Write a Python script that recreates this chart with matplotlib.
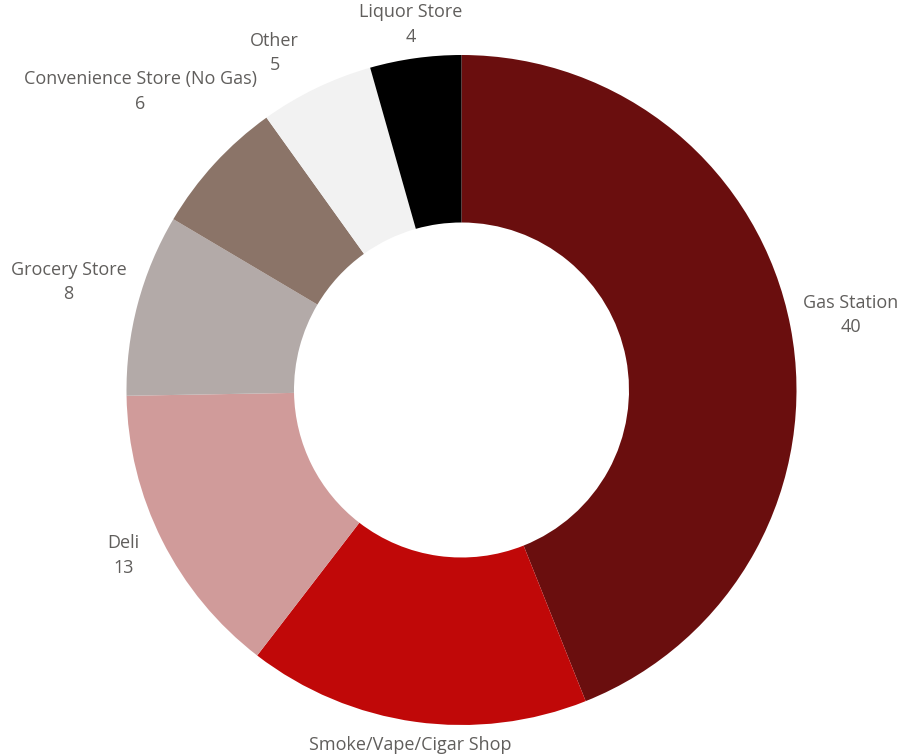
import numpy as np
import matplotlib.pyplot as plt

# data
categories = ['Gas Station', 'Smoke/Vape/Cigar Shop', 'Deli', 'Grocery Store',
              'Convenience Store (No Gas)', 'Other', 'Liquor Store']
counts = [40, 15, 13, 8, 6, 5, 4]
colors = ['#6A0E0E', '#C00808', '#D09B9A', '#B3AAA8', '#8B7468', '#F2F2F2', '#000000']

# label layout tweaks (degrees added to wedge mid-angle, radius in px)
angle_shift = [1.5, 0, 0.5, -3, -13, 0, 0]
label_r = [350, 371, 362, 352, 362, 374, 369]

fig = plt.figure(figsize=(9.04, 7.55), dpi=100)
ax = fig.add_axes([0, 0, 1, 1])
ax.axis('off')

cx, cy, R = 461.5, 365, 335
wedges, _ = ax.pie(counts, colors=colors, startangle=90, counterclock=False,
                   radius=R, center=(cx, cy),
                   wedgeprops=dict(width=R * 0.5, linewidth=0))
ax.set_xlim(0, 904)
ax.set_ylim(0, 755)
ax.set_aspect('equal')

for i, w in enumerate(wedges):
    mid = (w.theta1 + w.theta2) / 2 + angle_shift[i]
    a = np.deg2rad(mid)
    x = cx + label_r[i] * np.cos(a)
    y = cy + label_r[i] * np.sin(a)
    c = np.cos(a)
    if c > 0.3:
        ha = 'left'
    elif c < -0.3:
        ha = 'right'
    else:
        ha = 'center'
    ax.text(x, y, f'{categories[i]}\n{counts[i]}', ha=ha, va='center',
            multialignment='center', fontsize=13, color='#605E5C',
            family='Open Sans', linespacing=1.45)

fig.savefig('out.png', dpi=100)
